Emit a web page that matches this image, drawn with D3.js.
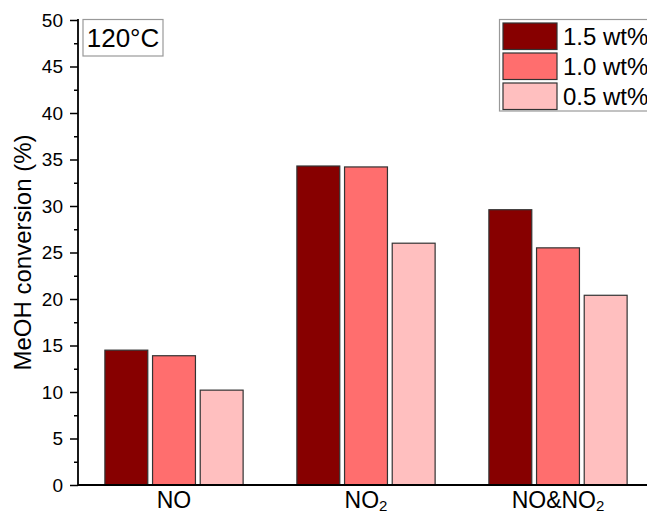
<!DOCTYPE html>
<html><head><meta charset="utf-8">
<script src="https://cdn.jsdelivr.net/npm/d3@7/dist/d3.min.js"></script>
<style>
html,body{margin:0;padding:0;background:#fff;}
svg{display:block;font-family:"Liberation Sans",Arial,sans-serif;}
</style></head>
<body>
<svg id="chart" width="647" height="513"></svg>
<script>
const categories = ["NO", "NO2", "NO&NO2"];
const seriesNames = ["1.5 wt%", "1.0 wt%", "0.5 wt%"];
const series15 = [14.5, 34.3, 29.6];
const series10 = [13.9, 34.2, 25.5];
const series05 = [10.2, 26.0, 20.4];
const colors = ["#870000", "#FF6E6E", "#FFBFBF"];
const yTicks = [0, 5, 10, 15, 20, 25, 30, 35, 40, 45, 50];
const yMinorTicks = [2.5, 7.5, 12.5, 17.5, 22.5, 27.5, 32.5, 37.5, 42.5, 47.5];
const yLabel = "MeOH conversion (%)";
const tempLabel = "120°C";

(function () {
const allSeries = [series15, series10, series05];
const svg = d3.select("#chart");
const pLeft = 78, pRight = 654, pTop = 20, pBottom = 485;

const x0 = d3.scaleBand().domain(categories).range([pLeft, pRight]).paddingInner(0.28).paddingOuter(0.14);
const x1 = d3.scaleBand().domain(d3.range(3)).range([0, x0.bandwidth()]).paddingInner(0.1);
const y = d3.scaleLinear().domain([0, 50]).range([pBottom, pTop]);

// bars
categories.forEach((c, ci) => {
  allSeries.forEach((s, si) => {
    svg.append("rect")
      .attr("x", x0(c) + x1(si))
      .attr("y", y(s[ci]))
      .attr("width", x1.bandwidth())
      .attr("height", pBottom - y(s[ci]))
      .attr("fill", colors[si])
      .attr("stroke", "#333")
      .attr("stroke-width", 1.2);
  });
});

// y axis
const yAxis = d3.axisLeft(y).tickValues(yTicks).tickSize(8).tickPadding(7);
const gy = svg.append("g").attr("transform", `translate(${pLeft},0)`).call(yAxis);
gy.select(".domain").remove();
gy.selectAll(".tick line").attr("stroke", "#000").attr("stroke-width", 1.5);
gy.selectAll(".tick text").attr("font-size", 19).attr("fill", "#000").attr("font-family", "Liberation Sans, Arial, sans-serif");
const gyMinor = svg.append("g").attr("transform", `translate(${pLeft},0)`)
  .call(d3.axisLeft(y).tickValues(yMinorTicks).tickSize(4).tickFormat(""));
gyMinor.select(".domain").remove();
gyMinor.selectAll(".tick line").attr("stroke", "#000").attr("stroke-width", 1.5);
svg.append("line").attr("x1", pLeft).attr("x2", pLeft).attr("y1", pTop - 1).attr("y2", pBottom + 1)
  .attr("stroke", "#000").attr("stroke-width", 1.8);

// x axis
svg.append("line").attr("x1", pLeft).attr("x2", 647).attr("y1", pBottom).attr("y2", pBottom)
  .attr("stroke", "#000").attr("stroke-width", 1.8);
categories.forEach(c => {
  const t = svg.append("text")
    .attr("x", x0(c) + x0.bandwidth() / 2)
    .attr("y", 508)
    .attr("text-anchor", "middle")
    .attr("font-size", 23)
    .attr("fill", "#000");
  const m = c.match(/^(.*?)2$/);
  if (m) {
    t.append("tspan").text(m[1]);
    t.append("tspan").text("2").attr("font-size", 15).attr("dy", 3);
  } else {
    t.text(c);
  }
});

// y label
svg.append("text")
  .attr("transform", `translate(31,${(pTop + pBottom) / 2}) rotate(-90)`)
  .attr("text-anchor", "middle")
  .attr("font-size", 24)
  .attr("fill", "#000")
  .text(yLabel);

// temperature label box
svg.append("rect").attr("x", 83).attr("y", 19.5).attr("width", 80).attr("height", 36.5)
  .attr("fill", "#fff").attr("stroke", "#999").attr("stroke-width", 1.2);
svg.append("text").attr("x", 123).attr("y", 47).attr("text-anchor", "middle")
  .attr("font-size", 26).attr("fill", "#000").text(tempLabel);

// legend
svg.append("rect").attr("x", 499.5).attr("y", 19.5).attr("width", 160).attr("height", 91.5)
  .attr("fill", "#fff").attr("stroke", "#999").attr("stroke-width", 1.2);
seriesNames.forEach((n, i) => {
  const yy = 23 + i * 30;
  svg.append("rect").attr("x", 503).attr("y", yy).attr("width", 54).attr("height", 26.5)
    .attr("fill", colors[i]).attr("stroke", "#333").attr("stroke-width", 1.2);
  svg.append("text").attr("x", 563).attr("y", yy + 22).attr("font-size", 24)
    .attr("fill", "#000").text(n);
});
})();
</script>
</body></html>
